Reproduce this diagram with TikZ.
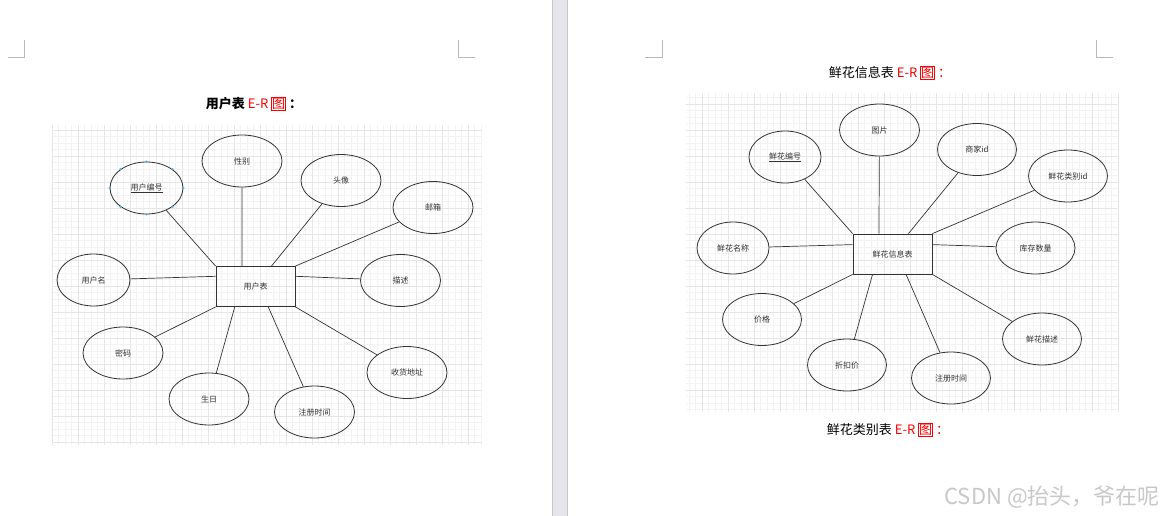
\documentclass[tikz,border=0pt]{standalone}
\usepackage{fontspec}
\setmainfont{Noto Sans CJK SC}
\usepackage{xcolor}
\definecolor{ink}{RGB}{51, 51, 51}
\definecolor{gridminor}{RGB}{243, 243, 243}
\definecolor{gridmajor}{RGB}{230, 230, 230}
\definecolor{pagebar}{RGB}{229, 228, 234}
\definecolor{barrim}{RGB}{198, 198, 202}
\definecolor{cropmark}{RGB}{185, 185, 185}
\definecolor{handle}{RGB}{ 64, 180, 240}
\definecolor{wmgray}{RGB}{200, 200, 200}
\usepackage{tikz}
\usetikzlibrary{shapes.geometric, positioning, calc}
\newcommand{\tagbox}[1]{{\fboxsep=0.3pt\fboxrule=0.6pt\fcolorbox{red}{white}{\textcolor{red}{#1}}}}
\tikzset{
  attr/.style={ellipse, draw=ink, line width=0.8pt, minimum width=80pt, minimum height=52pt,
    inner sep=0pt, text=ink, font=\fontsize{8}{10}\selectfont},
  entity/.style={rectangle, draw=ink, line width=0.8pt, minimum width=79pt, minimum height=40pt,
    text=ink, font=\fontsize{8}{10}\selectfont},
  link/.style={draw=ink, line width=0.7pt},
  title/.style={font=\fontsize{13}{15}\selectfont, inner sep=0pt},
  crop/.style={draw=cropmark, line width=0.8pt}
}

\begin{document}
\begin{tikzpicture}[x=1pt, y=-1pt]
    \useasboundingbox (0,0) rectangle (1164,516);
    \fill[white] (0,0) rectangle (1164,516);
    \fill[pagebar] (552,0) rectangle (568,516);
    \draw[barrim] (552.5,0) -- (552.5,516) (567.5,0) -- (567.5,516);
    \draw[crop] (8,57) -- (24,57) -- (24,40) (475,57) -- (458,57) -- (458,40);
    \draw[crop] (645,57) -- (662,57) -- (662,40) (1113,57) -- (1096,57) -- (1096,40);

    % grids in absolute units, so the flipped y axis does not hide the rows
    \draw[gridminor, step=6.5pt] (52pt,-125pt) grid (482pt,-445pt);
    \draw[gridmajor, step=26pt] (52pt,-125pt) grid (482pt,-445pt);
    \draw[gridminor, step=6.5pt] (686pt,-93pt) grid (1118pt,-412pt);
    \draw[gridmajor, step=26pt] (686pt,-93pt) grid (1118pt,-412pt);

    \node[title] (usertitle) at (254,104) {\textbf{用户表} \textcolor{red}{E-R} \tagbox{图}\hspace{3pt}\textbf{：}};
    \node[title] (flowertitle) at (890,73) {鲜花信息表 \textcolor{red}{E-R} \tagbox{图}\hspace{3pt}\textcolor{red}{：}};
    \node[title] (cattitle) at (888,430) {鲜花类别表 \textcolor{red}{E-R} \tagbox{图}\hspace{3pt}\textcolor{red}{：}};

    \node[entity] (user) at (255.5,286.5) {用户表};
    \foreach \nm/\px/\py/\w/\txt in {
      uid/146.5/188/73/{\underline{用户编号}}, gender/242/161/80/性别, avatar/341/180.5/80/头像,
      mail/433/207.5/80/邮箱, uname/93.5/280/73/用户名, desc/400.5/280.5/80/描述,
      pwd/123/353/80/密码, birth/209/399/80/生日, regt/314.5/412/80/注册时间,
      addr/407/372.5/80/收货地址}
      \node[attr, minimum width=\w] (\nm) at (\px,\py) {\txt};
    \foreach \a in {north, north east, east, south east, south, south west, west, north west}
      \fill[handle] (uid.\a) circle (1.3);

    \coordinate (user-n1) at ($(user.north west)!0.33!(user.north east)$);
    \coordinate (user-n2) at ($(user.north west)!0.70!(user.north east)$);
    \coordinate (user-w) at ($(user.north west)!0.25!(user.south west)$);
    \coordinate (user-e) at ($(user.north east)!0.25!(user.south east)$);
    \coordinate (user-s1) at ($(user.south west)!0.24!(user.south east)$);
    \coordinate (user-s2) at ($(user.south west)!0.66!(user.south east)$);
    \foreach \a/\b in {uid/user.north west, gender/user-n1, avatar/user-n2, mail/user.north east,
      uname/user-w, desc/user-e, pwd/user.south west, birth/user-s1, regt/user-s2,
      addr/user.south east}
      \draw[link] (\a) -- (\b);

    \node[entity] (flower) at (892.5,254) {鲜花信息表};
    \foreach \nm/\px/\py/\w/\txt in {
      fid/785/157/72/{\underline{鲜花编号}}, pic/879.5/130/80/图片, shop/977/149.5/79/商家id,
      cat/1068/176/79/鲜花类别id, fname/733/248/72/鲜花名称, stock/1035.5/248/79/库存数量,
      price/762/319.5/79/价格, disc/847/365/79/折扣价, ftime/951/378/79/注册时间,
      fdesc/1042/339/79/鲜花描述}
      \node[attr, minimum width=\w] (\nm) at (\px,\py) {\txt};

    \coordinate (flower-n1) at ($(flower.north west)!0.33!(flower.north east)$);
    \coordinate (flower-n2) at ($(flower.north west)!0.70!(flower.north east)$);
    \coordinate (flower-w) at ($(flower.north west)!0.27!(flower.south west)$);
    \coordinate (flower-e) at ($(flower.north east)!0.27!(flower.south east)$);
    \coordinate (flower-s1) at ($(flower.south west)!0.25!(flower.south east)$);
    \coordinate (flower-s2) at ($(flower.south west)!0.67!(flower.south east)$);
    \foreach \a/\b in {fid/flower.north west, pic/flower-n1, shop/flower-n2, cat/flower.north east,
      fname/flower-w, stock/flower-e, price/flower.south west, disc/flower-s1, ftime/flower-s2,
      fdesc/flower.south east}
      \draw[link] (\a) -- (\b);

    \node[font=\fontsize{22}{24}\selectfont, text=wmgray, anchor=east, inner sep=0pt] (watermark) at (1160,497) {CSDN @抬头，爷在呢};
  \end{tikzpicture}
\end{document}
